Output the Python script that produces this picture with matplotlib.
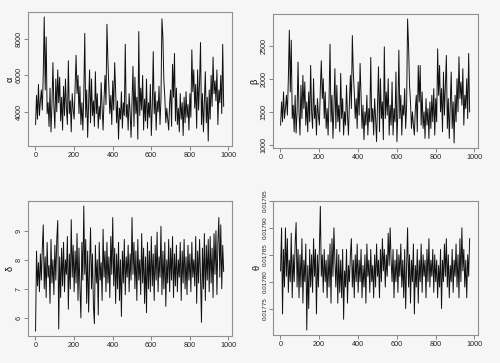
import numpy as np
import matplotlib
matplotlib.use('Agg')
import matplotlib.pyplot as plt

# trace values, one every 5 iterations (1, 6, 11, ... 976)
alpha = [3300, 4900, 3600, 5500, 3800, 4600, 5200, 4100, 6100, 9200, 5200, 8100, 3900, 4500, 3200, 5300, 2900, 4400, 6700, 4300,
         3100, 5800, 4000, 6300, 4500, 5900, 3500, 4800, 3000, 5400, 3800, 5800, 4200, 3300, 6800, 3900, 4600, 2900, 5000, 4100,
         3600, 5400, 7100, 5000, 6000, 3900, 5400, 3300, 4500, 3000, 4900, 8300, 3700, 5200, 2600, 4400, 6300, 3400, 5800, 3800,
         4600, 3200, 6200, 3900, 5000, 3100, 4300, 3600, 5600, 4200, 3000, 4700, 6000, 4400, 8800, 6800, 5300, 3900, 4900, 3300,
         5700, 4100, 6700, 5200, 3400, 4600, 2500, 4200, 3600, 5100, 3100, 4500, 3800, 7700, 3700, 4400, 3000, 5000, 4000, 2600,
         4600, 6500, 3200, 5900, 3900, 4800, 2500, 8400, 3800, 5300, 4100, 6000, 3000, 4700, 3500, 5800, 3100, 4500, 3700, 5500,
         2700, 4300, 7300, 3900, 5100, 3000, 4600, 4000, 5400, 3300, 4700, 9100, 8100, 5700, 4800, 3400, 4200, 3600, 3000, 4500,
         5200, 3200, 6600, 4800, 7200, 3500, 5300, 3300, 4200, 2900, 5000, 3600, 4500, 2700, 4800, 3400, 5100, 3700, 4400, 3000,
         5000, 3700, 7400, 5100, 6300, 4200, 5500, 3100, 6300, 4100, 5600, 7800, 3300, 5000, 2900, 4600, 6200, 3400, 4800, 2400,
         5200, 3600, 6000, 4300, 7000, 5000, 5700, 4600, 6300, 3300, 5200, 4500, 6000, 3900, 7700, 4300]

beta = [1300, 1650, 1350, 1800, 1400, 1550, 1750, 1450, 2000, 2730, 1800, 2580, 1400, 1600, 1200, 1750, 1180, 1500, 2250, 1500,
        1150, 1900, 1400, 2050, 1550, 1950, 1300, 1650, 1200, 1800, 1350, 2200, 1500, 1250, 2000, 1400, 1600, 1150, 1700, 1450,
        1300, 1850, 2270, 1700, 2000, 1400, 1800, 1250, 1550, 1150, 1700, 2520, 1350, 1750, 1100, 1550, 2150, 1250, 1900, 1350,
        1600, 1200, 2080, 1400, 1700, 1150, 1500, 1300, 1900, 1450, 1150, 1650, 2050, 1550, 2650, 2100, 1800, 1400, 1700, 1250,
        1950, 1450, 2230, 1750, 1250, 1600, 1080, 1500, 1300, 1750, 1150, 1550, 1350, 2320, 1350, 1550, 1150, 1700, 1400, 1050,
        1600, 2180, 1200, 2000, 1400, 1650, 1080, 2480, 1400, 1800, 1450, 2000, 1150, 1600, 1300, 1950, 1150, 1550, 1350, 2100,
        1050, 1500, 2430, 1400, 1750, 1150, 1600, 1450, 1850, 1250, 1600, 2900, 2500, 1900, 1650, 1250, 1500, 1300, 1150, 1550,
        1750, 1200, 2200, 1650, 2200, 1300, 1800, 1250, 1500, 1100, 1700, 1300, 1550, 1100, 1650, 1250, 1750, 1350, 1850, 1150,
        1700, 1350, 2450, 1750, 2200, 1500, 1850, 1200, 2100, 1450, 1900, 2350, 1250, 1700, 1100, 1600, 2100, 1250, 1650, 1030,
        1750, 1350, 2000, 1500, 2330, 1700, 1950, 1600, 2150, 1300, 1750, 1550, 2000, 1400, 2380, 1500]

delta = [5.55, 8.3, 7.1, 7.9, 6.9, 8.2, 7.3, 8.4, 9.2, 7.0, 8.1, 6.7, 8.6, 7.4, 7.8, 6.5, 8.7, 7.2, 8.0, 6.8,
         8.5, 7.3, 8.7, 9.35, 5.62, 8.1, 6.7, 8.4, 7.1, 8.6, 6.9, 8.0, 7.5, 8.8, 6.3, 8.2, 7.0, 9.38, 7.4, 8.5,
         6.9, 8.3, 7.2, 8.9, 6.6, 8.4, 7.0, 6.0, 8.6, 7.3, 9.85, 7.5, 8.7, 6.5, 8.3, 6.2, 7.8, 9.1, 7.0, 8.2,
         6.4, 5.8, 8.5, 7.2, 8.0, 6.1, 8.6, 7.3, 7.9, 6.6, 9.05, 7.4, 8.3, 6.9, 8.6, 7.2, 8.1, 6.7, 8.8, 7.5,
         9.45, 7.1, 8.4, 6.5, 8.2, 7.0, 8.6, 6.6, 8.0, 6.05, 8.3, 7.2, 8.7, 6.8, 8.1, 7.4, 8.5, 6.9, 8.2, 7.3,
         9.45, 7.5, 8.6, 7.0, 8.3, 6.6, 8.7, 7.3, 8.0, 6.8, 8.9, 7.2, 8.4, 6.5, 8.1, 6.18, 8.6, 7.0, 8.3, 6.9,
         8.8, 7.1, 8.2, 6.6, 8.5, 7.3, 8.95, 6.9, 8.1, 7.4, 9.15, 6.8, 8.3, 7.0, 8.6, 6.4, 8.0, 7.2, 8.7, 6.9,
         8.4, 7.3, 8.8, 6.7, 8.2, 7.1, 8.5, 6.9, 8.0, 7.4, 8.6, 6.6, 8.3, 7.2, 8.7, 7.0, 8.1, 6.8, 8.5, 7.3,
         8.2, 6.9, 8.6, 7.4, 8.0, 7.1, 8.8, 6.5, 8.3, 7.2, 8.7, 7.4, 5.85, 8.4, 7.0, 8.9, 6.6, 8.5, 7.3, 8.7,
         6.9, 8.8, 7.2, 8.4, 6.7, 8.9, 7.5, 9.0, 6.8, 8.6, 9.45, 7.4, 9.2, 7.0, 8.5, 7.6]

theta = [0.01782, 0.01790, 0.01774, 0.01786, 0.01779, 0.01790, 0.01781, 0.01788, 0.01778, 0.01784, 0.01780, 0.01789, 0.01777, 0.01785, 0.01780, 0.01787, 0.01791, 0.01779, 0.01786, 0.01777,
         0.01785, 0.01779, 0.01788, 0.01776, 0.01784, 0.01780, 0.01787, 0.01771, 0.01783, 0.01775, 0.01786, 0.01779, 0.01785, 0.01778, 0.01788, 0.01781, 0.01786, 0.01774, 0.01785, 0.01779,
         0.01786, 0.01794, 0.01781, 0.01785, 0.01778, 0.01786, 0.01780, 0.01784, 0.01777, 0.01785, 0.01779, 0.01787, 0.01776, 0.01788, 0.01781, 0.01790, 0.01784, 0.01779, 0.01786, 0.01776,
         0.01785, 0.01778, 0.01784, 0.01777, 0.01786, 0.01773, 0.01782, 0.01779, 0.01786, 0.01776, 0.01783, 0.01780, 0.01785, 0.01788, 0.01779, 0.01784, 0.01777, 0.01785, 0.01780, 0.01787,
         0.01778, 0.01784, 0.01780, 0.01786, 0.01777, 0.01783, 0.01779, 0.01785, 0.01776, 0.01787, 0.01781, 0.01784, 0.01778, 0.01786, 0.01780, 0.01783, 0.01777, 0.01785, 0.01779, 0.01787,
         0.01781, 0.01784, 0.01777, 0.01786, 0.01780, 0.01788, 0.01782, 0.01786, 0.01779, 0.01785, 0.01781, 0.01789, 0.01783, 0.01790, 0.01784, 0.01780, 0.01786, 0.01777, 0.01784, 0.01780,
         0.01786, 0.01778, 0.01785, 0.01781, 0.01787, 0.01779, 0.01784, 0.01777, 0.01786, 0.01775, 0.01783, 0.01790, 0.01779, 0.01785, 0.01776, 0.01784, 0.01780, 0.01787, 0.01774, 0.01783,
         0.01779, 0.01786, 0.01776, 0.01784, 0.01780, 0.01787, 0.01778, 0.01785, 0.01781, 0.01784, 0.01777, 0.01786, 0.01780, 0.01788, 0.01779, 0.01784, 0.01781, 0.01786, 0.01778, 0.01785,
         0.01780, 0.01784, 0.01777, 0.01783, 0.01779, 0.01786, 0.01775, 0.01784, 0.01780, 0.01787, 0.01781, 0.01788, 0.01779, 0.01785, 0.01777, 0.01783, 0.01780, 0.01786, 0.01778, 0.01784,
         0.01781, 0.01787, 0.01779, 0.01785, 0.01777, 0.01788, 0.01780, 0.01790, 0.01782, 0.01786, 0.01779, 0.01784, 0.01777, 0.01785, 0.01781, 0.01788]

labels = ['\u03b1', '\u03b2', '\u03b4', '\u03b8']
yticks = [[4000, 6000, 8000],
          [1000, 1500, 2000, 2500],
          [6, 7, 8, 9],
          [0.01775, 0.01780, 0.01785, 0.01790, 0.01795]]
ytick_labels = [['4000', '6000', '8000'],
                ['1000', '1500', '2000', '2500'],
                ['6', '7', '8', '9'],
                ['0.01775', '0.01780', '0.01785', '0.01790', '0.01795']]
xticks = [0, 200, 400, 600, 800, 1000]

plt.rcParams['font.family'] = ['Liberation Sans', 'DejaVu Sans']

bg = '#f6f6f6'
fig = plt.figure(figsize=(5, 3.63), dpi=100, facecolor=bg)

# axes boxes in pixels: left, top, right, bottom
boxes = [(28, 12, 232, 146), (273, 14, 478, 148),
         (28, 201, 232, 336), (273, 201, 478, 335)]


def r_lim(v):
    lo, hi = min(v), max(v)
    pad = 0.04 * (hi - lo)
    return lo - pad, hi + pad


for k, vals in enumerate([alpha, beta, delta, theta]):
    l, t, r, b = boxes[k]
    ax = fig.add_axes([l / 500, (363 - b) / 363, (r - l) / 500, (b - t) / 363])
    ax.set_facecolor(bg)
    it = np.arange(len(vals)) * 5 + 1
    ax.plot(it, vals, color='#111111', lw=0.7)
    ax.set_xlim(r_lim([1, 980]))
    ax.set_ylim(r_lim(vals))
    ax.set_xticks(xticks)
    ax.set_xticklabels([str(x) for x in xticks])
    ax.set_yticks(yticks[k])
    ax.set_yticklabels(ytick_labels[k], rotation=90, va='center',
                       fontsize=4.5 if k == 3 else 5.2)
    ax.tick_params(axis='x', labelsize=5.2)
    ax.tick_params(length=3, width=0.5, color='#555555', labelcolor='#222222', pad=1)
    for s in ax.spines.values():
        s.set_color('#909090')
        s.set_linewidth(0.8)
    ax.set_ylabel(labels[k], fontsize=6.5, labelpad=0.5)

fig.savefig('out.png', dpi=100, facecolor=bg)
